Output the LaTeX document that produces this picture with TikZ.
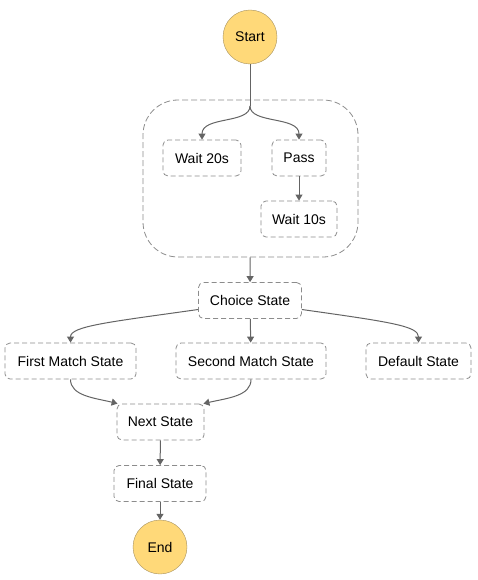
\documentclass[tikz,border=0pt]{standalone}
\usepackage{fontspec}
\setmainfont{Liberation Sans}
\usetikzlibrary{positioning}
\usetikzlibrary{arrows.meta}
\definecolor{termfill}{RGB}{255,217,121}
\definecolor{termline}{RGB}{165,145,95}
\definecolor{linkgray}{RGB}{100,100,100}
\definecolor{boxgray}{RGB}{140,140,140}

\begin{document}
\begin{tikzpicture}[->,>={Triangle[width=7pt,length=6pt]},x=1pt,y=-1pt]
        \tikzset{terminal/.style={shape=circle,draw=termline,fill=termfill,minimum size=54pt,inner sep=0pt,font=\fontsize{14}{16}\selectfont}}
        \tikzset{state/.style={shape=rectangle,draw=boxgray,line width=0.8pt,dash pattern=on 5pt off 3pt,rounded corners=5pt,minimum height=36pt,inner sep=0pt,font=\fontsize{14}{16}\selectfont}}
        \tikzset{branches/.style={shape=rectangle,draw=boxgray,line width=0.8pt,dash pattern=on 6pt off 3pt,rounded corners=35pt,minimum width=215pt,minimum height=157pt}}
        \tikzset{link/.style={draw=linkgray,line width=1pt}}

        \useasboundingbox (0,0) rectangle (478,580);

        \node[terminal] (Start) at (250,37) {Start};
        \node[branches] (Par) at (250.5,178.5) {};
        \coordinate (Fork) at (250,106);
        \node[state,minimum width=78pt] (W20) at (202,158) {Wait 20s};
        \node[state,minimum width=54pt] (Pass) at (299,158) {Pass};
        \node[state,minimum width=76pt] (W10) at (299,219) {Wait 10s};
        \node[state,minimum width=103pt] (Choice) at (250,300.5) {Choice State};
        \node[state,minimum width=131pt] (First) at (70.5,361) {First Match State};
        \node[state,minimum width=150pt] (Second) at (251,361) {Second Match State};
        \node[state,minimum width=105pt] (Default) at (418.5,361) {Default State};
        \node[state,minimum width=87pt] (Next) at (160.5,422) {Next State};
        \node[state,minimum width=92pt] (Final) at (160,483.5) {Final State};
        \node[terminal] (End) at (160,547) {End};

        \draw[link,-] (Start) -- (Fork);
        \draw[link] (Fork) .. controls (250,124) and (202,116) .. (W20.north);
        \draw[link] (Fork) .. controls (250,124) and (299,116) .. (Pass.north);
        \draw[link] (Pass) -- (W10);
        \draw[link] (Par) -- (Choice);
        \draw[link] ([yshift=-9pt]Choice.west) .. controls (110,322) and (70.5,326) .. (First.north);
        \draw[link] (Choice) -- (Second);
        \draw[link] ([yshift=-9pt]Choice.east) .. controls (390,322) and (418.5,326) .. (Default.north);
        \draw[link] (First.south) .. controls (70.5,396) and (95,398) .. ([xshift=1pt]Next.north west);
        \draw[link] (Second.south) .. controls (251,396) and (228,398) .. ([xshift=-1pt]Next.north east);
        \draw[link] (Next) -- (Final);
        \draw[link] (Final) -- (End);
    \end{tikzpicture}
\end{document}
